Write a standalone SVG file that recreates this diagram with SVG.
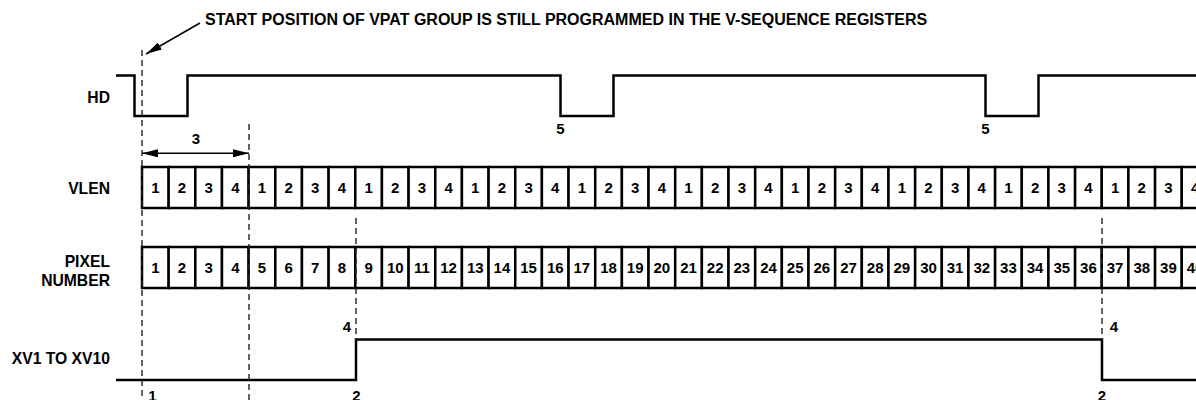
<svg xmlns="http://www.w3.org/2000/svg" width="1196" height="400" viewBox="0 0 1196 400">
<style>
text{font-family:"Liberation Sans",Arial,sans-serif;font-weight:bold;fill:#000}
.lbl{font-size:15.7px;text-anchor:end}
.num{font-size:15px;text-anchor:middle}
.wave{fill:none;stroke:#000;stroke-width:2.5;stroke-linejoin:miter}
.cell{fill:#fff;stroke:#000;stroke-width:2.5}
.dash{fill:none;stroke:#222;stroke-width:1.4;stroke-dasharray:6 4}
.ln{fill:none;stroke:#000;stroke-width:1.5}
</style>
<defs>
<marker id="ah" viewBox="0 0 16 8" refX="16" refY="4" markerWidth="16" markerHeight="8" markerUnits="userSpaceOnUse" orient="auto-start-reverse">
<path d="M0,0 L16,4 L0,8 Z" fill="#000"/>
</marker>
</defs>
<rect width="1196" height="400" fill="#fff"/>

<g id="title">
<text x="205" y="25.3" style="font-size:16px">START POSITION OF VPAT GROUP IS STILL PROGRAMMED IN THE V-SEQUENCE REGISTERS</text>
</g>

<g id="labels">
<text class="lbl" x="110" y="102.5">HD</text>
<text class="lbl" x="110" y="194">VLEN</text>
<text class="lbl" x="110" y="267.3">PIXEL</text>
<text class="lbl" x="110" y="286.3">NUMBER</text>
<text class="lbl" x="110" y="364">XV1 TO XV10</text>
</g>

<g id="hd">
<path class="wave" d="M116,75.5 H134.5 V116 H187.5 V75.5 H560.5 V116 H613.5 V75.5 H985.5 V116 H1038.5 V75.5 H1200"/>
<text class="num" x="560.5" y="133.5">5</text>
<text class="num" x="985.5" y="133.5">5</text>
</g>

<g id="vlen">
<rect class="cell" x="142" y="167" width="26.66" height="41"/>
<rect class="cell" x="168.66" y="167" width="26.66" height="41"/>
<rect class="cell" x="195.32" y="167" width="26.66" height="41"/>
<rect class="cell" x="221.98" y="167" width="26.66" height="41"/>
<rect class="cell" x="248.64" y="167" width="26.66" height="41"/>
<rect class="cell" x="275.3" y="167" width="26.66" height="41"/>
<rect class="cell" x="301.96" y="167" width="26.66" height="41"/>
<rect class="cell" x="328.62" y="167" width="26.66" height="41"/>
<rect class="cell" x="355.28" y="167" width="26.66" height="41"/>
<rect class="cell" x="381.94" y="167" width="26.66" height="41"/>
<rect class="cell" x="408.6" y="167" width="26.66" height="41"/>
<rect class="cell" x="435.26" y="167" width="26.66" height="41"/>
<rect class="cell" x="461.92" y="167" width="26.66" height="41"/>
<rect class="cell" x="488.58" y="167" width="26.66" height="41"/>
<rect class="cell" x="515.24" y="167" width="26.66" height="41"/>
<rect class="cell" x="541.9" y="167" width="26.66" height="41"/>
<rect class="cell" x="568.56" y="167" width="26.66" height="41"/>
<rect class="cell" x="595.22" y="167" width="26.66" height="41"/>
<rect class="cell" x="621.88" y="167" width="26.66" height="41"/>
<rect class="cell" x="648.54" y="167" width="26.66" height="41"/>
<rect class="cell" x="675.2" y="167" width="26.66" height="41"/>
<rect class="cell" x="701.86" y="167" width="26.66" height="41"/>
<rect class="cell" x="728.52" y="167" width="26.66" height="41"/>
<rect class="cell" x="755.18" y="167" width="26.66" height="41"/>
<rect class="cell" x="781.84" y="167" width="26.66" height="41"/>
<rect class="cell" x="808.5" y="167" width="26.66" height="41"/>
<rect class="cell" x="835.16" y="167" width="26.66" height="41"/>
<rect class="cell" x="861.82" y="167" width="26.66" height="41"/>
<rect class="cell" x="888.48" y="167" width="26.66" height="41"/>
<rect class="cell" x="915.14" y="167" width="26.66" height="41"/>
<rect class="cell" x="941.8" y="167" width="26.66" height="41"/>
<rect class="cell" x="968.46" y="167" width="26.66" height="41"/>
<rect class="cell" x="995.12" y="167" width="26.66" height="41"/>
<rect class="cell" x="1021.78" y="167" width="26.66" height="41"/>
<rect class="cell" x="1048.44" y="167" width="26.66" height="41"/>
<rect class="cell" x="1075.1" y="167" width="26.66" height="41"/>
<rect class="cell" x="1101.76" y="167" width="26.66" height="41"/>
<rect class="cell" x="1128.42" y="167" width="26.66" height="41"/>
<rect class="cell" x="1155.08" y="167" width="26.66" height="41"/>
<rect class="cell" x="1181.74" y="167" width="26.66" height="41"/>
<text class="num" x="155.33" y="193">1</text>
<text class="num" x="181.99" y="193">2</text>
<text class="num" x="208.65" y="193">3</text>
<text class="num" x="235.31" y="193">4</text>
<text class="num" x="261.97" y="193">1</text>
<text class="num" x="288.63" y="193">2</text>
<text class="num" x="315.29" y="193">3</text>
<text class="num" x="341.95" y="193">4</text>
<text class="num" x="368.61" y="193">1</text>
<text class="num" x="395.27" y="193">2</text>
<text class="num" x="421.93" y="193">3</text>
<text class="num" x="448.59" y="193">4</text>
<text class="num" x="475.25" y="193">1</text>
<text class="num" x="501.91" y="193">2</text>
<text class="num" x="528.57" y="193">3</text>
<text class="num" x="555.23" y="193">4</text>
<text class="num" x="581.89" y="193">1</text>
<text class="num" x="608.55" y="193">2</text>
<text class="num" x="635.21" y="193">3</text>
<text class="num" x="661.87" y="193">4</text>
<text class="num" x="688.53" y="193">1</text>
<text class="num" x="715.19" y="193">2</text>
<text class="num" x="741.85" y="193">3</text>
<text class="num" x="768.51" y="193">4</text>
<text class="num" x="795.17" y="193">1</text>
<text class="num" x="821.83" y="193">2</text>
<text class="num" x="848.49" y="193">3</text>
<text class="num" x="875.15" y="193">4</text>
<text class="num" x="901.81" y="193">1</text>
<text class="num" x="928.47" y="193">2</text>
<text class="num" x="955.13" y="193">3</text>
<text class="num" x="981.79" y="193">4</text>
<text class="num" x="1008.45" y="193">1</text>
<text class="num" x="1035.11" y="193">2</text>
<text class="num" x="1061.77" y="193">3</text>
<text class="num" x="1088.43" y="193">4</text>
<text class="num" x="1115.09" y="193">1</text>
<text class="num" x="1141.75" y="193">2</text>
<text class="num" x="1168.41" y="193">3</text>
<text class="num" x="1195.07" y="193">4</text>
</g>

<g id="pixel">
<rect class="cell" x="142" y="247" width="26.66" height="41"/>
<rect class="cell" x="168.66" y="247" width="26.66" height="41"/>
<rect class="cell" x="195.32" y="247" width="26.66" height="41"/>
<rect class="cell" x="221.98" y="247" width="26.66" height="41"/>
<rect class="cell" x="248.64" y="247" width="26.66" height="41"/>
<rect class="cell" x="275.3" y="247" width="26.66" height="41"/>
<rect class="cell" x="301.96" y="247" width="26.66" height="41"/>
<rect class="cell" x="328.62" y="247" width="26.66" height="41"/>
<rect class="cell" x="355.28" y="247" width="26.66" height="41"/>
<rect class="cell" x="381.94" y="247" width="26.66" height="41"/>
<rect class="cell" x="408.6" y="247" width="26.66" height="41"/>
<rect class="cell" x="435.26" y="247" width="26.66" height="41"/>
<rect class="cell" x="461.92" y="247" width="26.66" height="41"/>
<rect class="cell" x="488.58" y="247" width="26.66" height="41"/>
<rect class="cell" x="515.24" y="247" width="26.66" height="41"/>
<rect class="cell" x="541.9" y="247" width="26.66" height="41"/>
<rect class="cell" x="568.56" y="247" width="26.66" height="41"/>
<rect class="cell" x="595.22" y="247" width="26.66" height="41"/>
<rect class="cell" x="621.88" y="247" width="26.66" height="41"/>
<rect class="cell" x="648.54" y="247" width="26.66" height="41"/>
<rect class="cell" x="675.2" y="247" width="26.66" height="41"/>
<rect class="cell" x="701.86" y="247" width="26.66" height="41"/>
<rect class="cell" x="728.52" y="247" width="26.66" height="41"/>
<rect class="cell" x="755.18" y="247" width="26.66" height="41"/>
<rect class="cell" x="781.84" y="247" width="26.66" height="41"/>
<rect class="cell" x="808.5" y="247" width="26.66" height="41"/>
<rect class="cell" x="835.16" y="247" width="26.66" height="41"/>
<rect class="cell" x="861.82" y="247" width="26.66" height="41"/>
<rect class="cell" x="888.48" y="247" width="26.66" height="41"/>
<rect class="cell" x="915.14" y="247" width="26.66" height="41"/>
<rect class="cell" x="941.8" y="247" width="26.66" height="41"/>
<rect class="cell" x="968.46" y="247" width="26.66" height="41"/>
<rect class="cell" x="995.12" y="247" width="26.66" height="41"/>
<rect class="cell" x="1021.78" y="247" width="26.66" height="41"/>
<rect class="cell" x="1048.44" y="247" width="26.66" height="41"/>
<rect class="cell" x="1075.1" y="247" width="26.66" height="41"/>
<rect class="cell" x="1101.76" y="247" width="26.66" height="41"/>
<rect class="cell" x="1128.42" y="247" width="26.66" height="41"/>
<rect class="cell" x="1155.08" y="247" width="26.66" height="41"/>
<rect class="cell" x="1181.74" y="247" width="26.66" height="41"/>
<text class="num" x="155.33" y="273">1</text>
<text class="num" x="181.99" y="273">2</text>
<text class="num" x="208.65" y="273">3</text>
<text class="num" x="235.31" y="273">4</text>
<text class="num" x="261.97" y="273">5</text>
<text class="num" x="288.63" y="273">6</text>
<text class="num" x="315.29" y="273">7</text>
<text class="num" x="341.95" y="273">8</text>
<text class="num" x="368.61" y="273">9</text>
<text class="num" x="395.27" y="273">10</text>
<text class="num" x="421.93" y="273">11</text>
<text class="num" x="448.59" y="273">12</text>
<text class="num" x="475.25" y="273">13</text>
<text class="num" x="501.91" y="273">14</text>
<text class="num" x="528.57" y="273">15</text>
<text class="num" x="555.23" y="273">16</text>
<text class="num" x="581.89" y="273">17</text>
<text class="num" x="608.55" y="273">18</text>
<text class="num" x="635.21" y="273">19</text>
<text class="num" x="661.87" y="273">20</text>
<text class="num" x="688.53" y="273">21</text>
<text class="num" x="715.19" y="273">22</text>
<text class="num" x="741.85" y="273">23</text>
<text class="num" x="768.51" y="273">24</text>
<text class="num" x="795.17" y="273">25</text>
<text class="num" x="821.83" y="273">26</text>
<text class="num" x="848.49" y="273">27</text>
<text class="num" x="875.15" y="273">28</text>
<text class="num" x="901.81" y="273">29</text>
<text class="num" x="928.47" y="273">30</text>
<text class="num" x="955.13" y="273">31</text>
<text class="num" x="981.79" y="273">32</text>
<text class="num" x="1008.45" y="273">33</text>
<text class="num" x="1035.11" y="273">34</text>
<text class="num" x="1061.77" y="273">35</text>
<text class="num" x="1088.43" y="273">36</text>
<text class="num" x="1115.09" y="273">37</text>
<text class="num" x="1141.75" y="273">38</text>
<text class="num" x="1168.41" y="273">39</text>
<text class="num" x="1195.07" y="273">40</text>
</g>

<g id="xv">
<path class="wave" d="M116,380 H356 V339.5 H1102 V380 H1200"/>
<text class="num" x="347" y="331.5">4</text>
<text class="num" x="1114" y="331.5">4</text>
<text class="num" x="356.5" y="401">2</text>
<text class="num" x="1102" y="401">2</text>
<text class="num" x="152.5" y="401">1</text>
</g>

<g id="connectors">
<path class="dash" d="M142,50 V400"/>
<path class="dash" d="M249,124 V400"/>
<path class="dash" d="M356,218 V340"/>
<path class="dash" d="M1102,218 V340"/>
<path class="ln" d="M142,153.3 H249" marker-start="url(#ah)" marker-end="url(#ah)"/>
<path class="ln" d="M200,23 L146,54" marker-end="url(#ah)"/>
<text class="num" x="196" y="143.5">3</text>
</g>
</svg>
